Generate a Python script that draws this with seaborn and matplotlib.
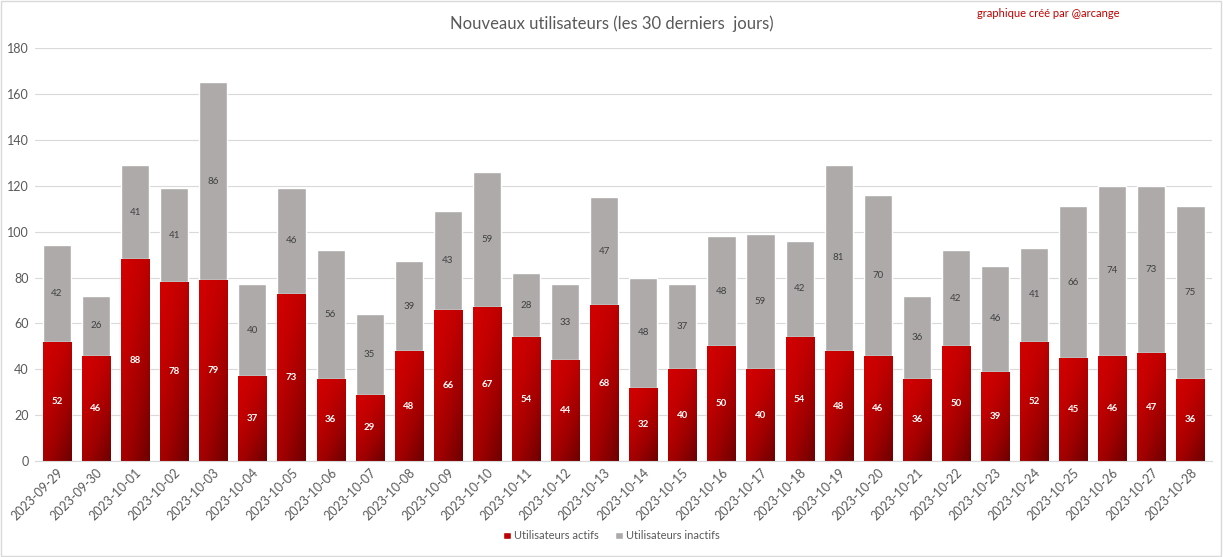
import numpy as np
import pandas as pd
import matplotlib
matplotlib.use("Agg")
import matplotlib.pyplot as plt
import seaborn as sns
from matplotlib.colors import LinearSegmentedColormap
from matplotlib.patches import Patch, Rectangle

dates = ["2023-09-29", "2023-09-30", "2023-10-01", "2023-10-02", "2023-10-03", "2023-10-04",
         "2023-10-05", "2023-10-06", "2023-10-07", "2023-10-08", "2023-10-09", "2023-10-10",
         "2023-10-11", "2023-10-12", "2023-10-13", "2023-10-14", "2023-10-15", "2023-10-16",
         "2023-10-17", "2023-10-18", "2023-10-19", "2023-10-20", "2023-10-21", "2023-10-22",
         "2023-10-23", "2023-10-24", "2023-10-25", "2023-10-26", "2023-10-27", "2023-10-28"]
actifs = [52, 46, 88, 78, 79, 37, 73, 36, 29, 48, 66, 67, 54, 44, 68, 32, 40, 50, 40, 54,
          48, 46, 36, 50, 39, 52, 45, 46, 47, 36]
inactifs = [42, 26, 41, 41, 86, 40, 46, 56, 35, 39, 43, 59, 28, 33, 47, 48, 37, 48, 59, 42,
            81, 70, 36, 42, 46, 41, 66, 74, 73, 75]

df = pd.DataFrame({"date": dates, "actifs": actifs, "inactifs": inactifs})
df["total"] = df["actifs"] + df["inactifs"]

sns.set_style("white")
plt.rcParams['font.family'] = ['Lato', 'DejaVu Sans']

fig = plt.figure(figsize=(12.23, 5.57), dpi=100)
ax = fig.add_axes([0.029, 0.172, 0.962, 0.742])

gray = "#aeaaaa"
sns.barplot(data=df, x="date", y="total", color=gray, width=0.72, saturation=1, ax=ax)
n_gray = len(ax.patches)
sns.barplot(data=df, x="date", y="actifs", color="#c00000", width=0.72, saturation=1, ax=ax)
red_bars = ax.patches[n_gray:]

# gradient diagonal : rouge vif en haut a gauche, bordeaux en bas a droite
cmap = LinearSegmentedColormap.from_list("rg", ["#d40000", "#c20000", "#a00000", "#6e0000"])
gx, gy = np.meshgrid(np.linspace(0, 1, 50), np.linspace(0, 1, 200))
grad = 0.4 * gx + 0.6 * (1 - gy)
for p in red_bars:
    x0, y0 = p.get_x(), p.get_y()
    w, h = p.get_width(), p.get_height()
    p.set_facecolor("none")
    im = ax.imshow(grad, cmap=cmap, extent=[x0, x0 + w, y0, y0 + h], origin="lower",
                   aspect="auto", zorder=2, vmin=0, vmax=1)
    im.set_clip_path(p)

for i, (a, b) in enumerate(zip(actifs, inactifs)):
    ax.text(i, a / 2, str(a), ha="center", va="center", color="white",
            fontsize=7, fontweight="bold", zorder=4)
    ax.text(i, a + b / 2, str(b), ha="center", va="center", color="#404040",
            fontsize=7, zorder=4)

ax.set_xlim(-0.55, len(dates) - 0.45)
ax.set_ylim(0, 180)
ax.set_yticks(range(0, 181, 20))
ax.yaxis.grid(True, color="#d9d9d9", linewidth=0.8)
ax.set_axisbelow(True)
for s in ["top", "right", "left"]:
    ax.spines[s].set_visible(False)
ax.spines["bottom"].set_color("#d9d9d9")
ax.tick_params(axis="y", labelsize=9, colors="#595959", length=0, pad=5)
ax.tick_params(axis="x", labelsize=9, colors="#595959", length=0)
plt.setp(ax.get_xticklabels(), rotation=45, ha="right", rotation_mode="anchor")
ax.set_xlabel("")
ax.set_ylabel("")

fig.text(0.5, 0.958, "Nouveaux utilisateurs (les 30 derniers  jours)", ha="center",
         va="center", fontsize=12, color="#595959")
fig.text(0.857, 0.975, "graphique créé par @arcange", ha="center", va="center",
         fontsize=8, color="#c00000")

handles = [Patch(facecolor="#c00000", label="Utilisateurs actifs"),
           Patch(facecolor=gray, label="Utilisateurs inactifs")]
fig.legend(handles=handles, loc="center", bbox_to_anchor=(0.5, 0.038), ncol=2, frameon=False,
           fontsize=8, labelcolor="#595959", handlelength=0.7, handleheight=0.7,
           handletextpad=0.3, columnspacing=1.5)

fig.patches.append(Rectangle((0.001, 0.002), 0.997, 0.996, transform=fig.transFigure,
                             fill=False, edgecolor="#d9d9d9", linewidth=1))

fig.savefig("out.png", dpi=100)
